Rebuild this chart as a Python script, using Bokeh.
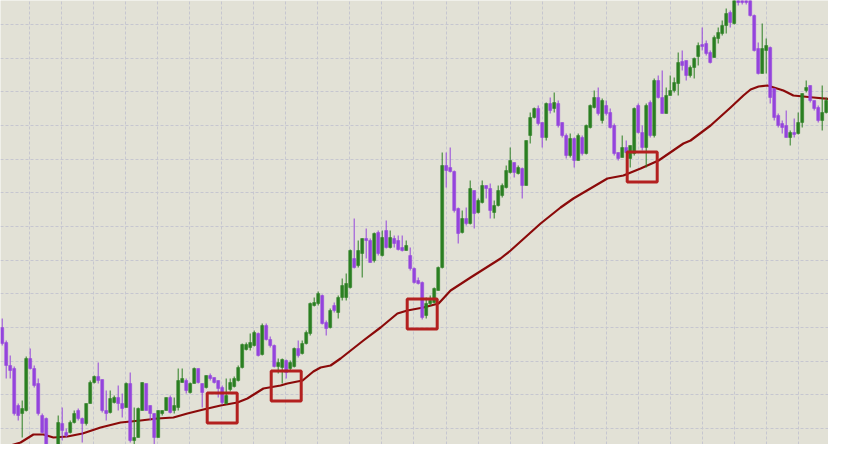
from bokeh.plotting import figure
from bokeh.models import Range1d, FixedTicker, ColumnDataSource
from bokeh.embed import file_html
from bokeh.resources import INLINE
import numpy as np

# ---- candle data (price units), one entry per bar ----
opens = [133,118,95,92,55,47,50,102,92,77,45,42,8,5,-5,37,28,28,38,50,
         42,37,57,78,84,81,50,48,58,63,57,53,77,20,23,50,77,55,47,23,
         47,50,63,50,53,78,80,68,77,92,77,73,85,83,80,73,57,71,74,80,
         93,111,113,115,127,106,135,121,115,94,93,100,92,94,112,107,117,127,155,157,
         165,138,133,155,148,163,163,173,202,195,207,222,220,200,228,205,230,213,222,220,
         213,210,205,192,180,178,145,157,158,170,193,295,293,289,252,228,242,237,270,248,
         258,275,272,248,255,265,273,288,298,287,292,275,325,343,352,338,323,357,352,357,
         338,325,305,322,300,323,307,333,353,363,340,355,348,335,308,303,313,302,307,355,
         328,313,358,325,380,363,347,365,370,377,399,400,385,393,404,416,417,408,403,422,
         427,435,448,437,468,466,465,462,445,412,387,410,413,372,345,337,335,323,328,327,
         338,370,375,360,353,340,348,360,353,348,345]
closes = [117,95,90,47,45,52,102,92,75,47,28,5,2,-2,38,30,25,38,47,42,
          37,57,78,84,80,50,47,62,63,57,52,77,20,23,52,78,50,47,23,50,
          50,63,48,55,80,82,70,77,92,78,68,85,82,78,72,58,65,78,82,93,
          116,116,118,128,105,135,121,115,94,98,101,88,98,112,105,117,128,157,158,167,
          137,132,150,150,163,175,177,210,193,210,222,220,198,227,207,223,213,223,217,211,
          210,215,192,178,177,143,157,160,172,193,295,290,289,250,227,242,237,272,247,260,
          275,272,250,255,270,275,290,300,288,293,275,320,343,352,337,323,357,350,358,335,
          325,305,322,300,325,307,335,355,363,347,360,347,333,307,302,313,308,315,352,328,
          313,355,325,380,363,347,365,370,378,398,395,385,393,402,415,414,407,398,423,428,
          435,447,438,460,458,458,458,445,410,387,412,415,363,343,335,333,323,328,326,338,
          367,373,360,352,340,348,360,353,348,343,325]
highs = [142,120,105,94,57,60,104,112,95,82,47,43,10,8,45,53,32,40,50,52,
         43,57,80,85,98,81,70,70,65,75,67,78,88,53,53,78,77,55,47,50,
         50,63,65,63,92,92,82,78,93,92,77,85,87,83,80,75,82,82,84,95,
         117,118,127,130,128,137,137,124,116,102,102,101,100,113,120,120,130,158,163,169,
         166,140,152,158,165,182,187,211,242,220,222,232,222,228,230,230,240,230,225,225,
         225,220,213,193,183,179,163,165,173,194,308,308,313,290,253,250,253,280,270,262,
         280,275,277,260,275,277,295,313,298,295,293,320,348,353,355,338,358,363,368,360,
         338,327,327,323,327,325,336,356,370,373,362,360,352,337,308,325,320,315,353,357,
         335,357,360,382,385,390,373,385,383,408,410,400,395,403,418,433,420,410,425,433,
         440,452,450,465,472,470,469,466,446,418,437,422,414,372,347,340,350,330,342,348,
         367,380,375,360,355,375,363,372,355,358,347]
lows = [115,82,82,45,40,23,49,91,73,45,27,-2,-5,-8,-10,20,23,27,37,40,
        18,35,57,77,77,48,40,47,57,50,43,53,18,8,23,50,50,40,15,23,
        45,50,47,47,50,78,67,67,77,77,53,72,80,77,63,56,56,69,73,79,
        92,110,110,114,104,105,120,113,93,87,77,82,90,93,103,106,116,125,154,155,
        136,125,132,148,142,160,160,172,192,193,183,202,198,198,205,204,212,212,213,210,
        209,210,190,177,176,141,142,155,157,170,192,273,288,248,217,227,235,236,232,247,
        257,262,242,242,254,263,272,287,283,286,262,275,317,342,335,313,320,347,348,333,
        323,302,303,293,300,305,306,332,352,345,337,345,332,305,300,303,307,293,305,327,
        310,293,323,323,362,347,347,365,368,365,390,380,383,382,395,410,405,397,403,417,
        425,427,433,436,455,456,456,444,409,386,387,387,357,340,333,327,323,315,323,326,
        333,368,358,350,338,330,347,352,345,338,323]

# ---- moving-average line (bar index, price) ----
ma_idx = [-0.4, 2.1, 4.6, 7.8, 10.3, 12.8, 16.3, 20.1, 24.6, 29.6, 34.6, 38.8, 42.8,
          46.3, 50.3, 54.6, 58.8, 61.3, 65.3, 69.6, 71.3, 73.8, 75.1, 77.8, 79.6,
          82.1, 84.6, 90.3, 94.6, 98.8, 101.3, 105.3, 109.1, 112.1, 117.1, 124.6,
          127.1, 134.6, 139.6, 142.8, 149.6, 151.3, 155.3, 159.6, 164.1, 170.3, 172.1,
          177.1, 182.1, 185.3, 187.1, 189.1, 191.3, 195.3, 197.8, 202.8, 210.6]
ma_val = [7, 15, 18, 26, 26, 23, 24, 27, 33, 38, 40, 42, 43, 47, 51, 55, 58, 62, 72,
          75, 77, 79, 80, 89, 93, 95, 102, 120, 133, 147, 150, 153, 157, 170, 183, 202,
          210, 237, 253, 262, 278, 282, 285, 292, 300, 317, 320, 335, 353, 365, 371,
          374, 375, 370, 365, 363, 360]

# ---- highlighted touches of the average (bar index, price) ----
sq_idx = [55, 71, 105, 160]
sq_val = [52.5, 74.5, 146.5, 293.5]

GREEN = "#2a7f22"
PURPLE = "#9444dd"

n = len(opens)
idx = list(range(n))
colors = [GREEN if c >= o else PURPLE for o, c in zip(opens, closes)]
src = ColumnDataSource(dict(
    x=idx, o=opens, c=closes, h=highs, l=lows,
    top=[max(o, c) for o, c in zip(opens, closes)],
    bot=[min(o, c) for o, c in zip(opens, closes)],
    color=colors))

p = figure(width=828, height=444, output_backend="svg", toolbar_location=None,
           x_range=Range1d(-0.425, 206.575), y_range=Range1d(16, 460),
           min_border=0, background_fill_color="#e2e1d6",
           border_fill_color="#e2e1d6", outline_line_color=None)

p.xaxis.visible = False
p.yaxis.visible = False
xt = FixedTicker(ticks=list(6.825 + 8.01 * np.arange(0, 27)))
yt = FixedTicker(ticks=list(436 - 33.67 * np.arange(0, 14)))
p.xaxis.ticker = xt
p.yaxis.ticker = yt
p.xgrid.ticker = xt
p.ygrid.ticker = yt
for g in (p.xgrid, p.ygrid):
    g.grid_line_color = "#c6c6d0"
    g.grid_line_dash = "3 2"
    g.grid_line_width = 1

p.line(ma_idx, ma_val, line_color="#8b0a0a", line_width=2.2, line_join="round")

p.segment(x0="x", y0="h", x1="x", y1="l", line_color="color", line_width=1, source=src)
p.vbar(x="x", width=0.75, top="top", bottom="bot", fill_color="color",
       line_color="color", line_width=0.5, source=src)

p.rect(x=sq_idx, y=sq_val, width=30, height=30, width_units="screen",
       height_units="screen", fill_alpha=0, line_color="#b3201f", line_width=3)

open("out.html", "w").write(file_html(p, INLINE))
